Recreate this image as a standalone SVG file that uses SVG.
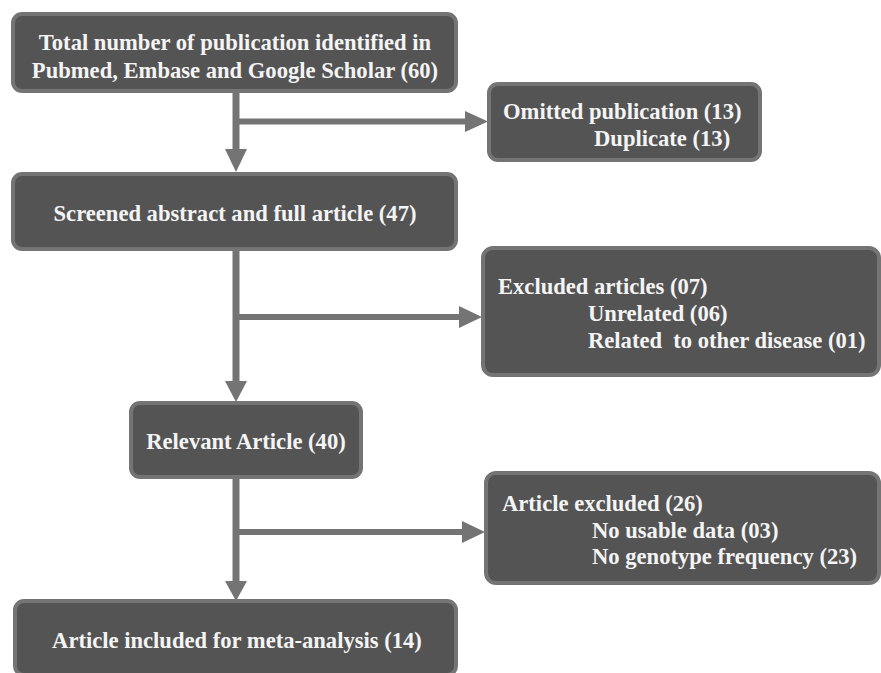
<svg xmlns="http://www.w3.org/2000/svg" width="881" height="673" viewBox="0 0 881 673">
<defs>
<style>
.box{fill:#545454;stroke:#747474;stroke-width:4}
.t{font-family:"Liberation Serif","Times New Roman",serif;font-weight:bold;font-size:22.6px;fill:#f4f4f4}
.c{text-anchor:middle}
.ln{stroke:#747474;fill:none}
.v{stroke-width:7}
.h{stroke-width:6}
.ah{fill:#747474}
</style>
</defs>
<rect width="881" height="673" fill="#ffffff"/>
<g id="connectors">
<line class="ln v" x1="236" y1="91" x2="236" y2="150"/>
<line class="ln h" x1="236" y1="121.5" x2="466" y2="121.5"/>
<polygon class="ah" points="465,111 488,121.5 465,132"/>
<polygon class="ah" points="225,149 247,149 236,172"/>
<line class="ln v" x1="236" y1="249" x2="236" y2="382"/>
<line class="ln h" x1="236" y1="317" x2="460" y2="317"/>
<polygon class="ah" points="459,306 482,317 459,328"/>
<polygon class="ah" points="225,381 247,381 236,402"/>
<line class="ln v" x1="236" y1="477" x2="236" y2="582"/>
<line class="ln h" x1="236" y1="532" x2="463" y2="532"/>
<polygon class="ah" points="462,521 485,532 462,543"/>
<polygon class="ah" points="225,581 247,581 236,601"/>
</g>
<g id="n1">
<rect class="box" x="13" y="14" width="443" height="77" rx="9"/>
<text class="t c" x="235" y="50">Total number of publication identified in</text>
<text class="t c" x="235" y="78">Pubmed, Embase and Google Scholar (60)</text>
</g>
<g id="n2">
<rect class="box" x="489" y="84" width="271" height="76" rx="9"/>
<text class="t" x="503" y="119">Omitted publication (13)</text>
<text class="t" x="594" y="146">Duplicate (13)</text>
</g>
<g id="n3">
<rect class="box" x="13" y="174" width="443" height="75" rx="9"/>
<text class="t c" x="235" y="221">Screened abstract and full article (47)</text>
</g>
<g id="n4">
<rect class="box" x="483" y="248" width="396" height="127" rx="10"/>
<text class="t" x="498" y="294">Excluded articles (07)</text>
<text class="t" x="588" y="321">Unrelated (06)</text>
<text class="t" x="588" y="348" xml:space="preserve">Related  to other disease (01)</text>
</g>
<g id="n5">
<rect class="box" x="131" y="403" width="230" height="74" rx="9"/>
<text class="t c" x="246" y="449">Relevant Article (40)</text>
</g>
<g id="n6">
<rect class="box" x="486" y="473" width="393" height="110" rx="10"/>
<text class="t" x="502" y="511">Article excluded (26)</text>
<text class="t" x="592" y="538">No usable data (03)</text>
<text class="t" x="592" y="564">No genotype frequency (23)</text>
</g>
<g id="n7">
<rect class="box" x="15" y="601" width="441" height="74" rx="9"/>
<text class="t c" x="237" y="648">Article included for meta-analysis (14)</text>
</g>
</svg>
